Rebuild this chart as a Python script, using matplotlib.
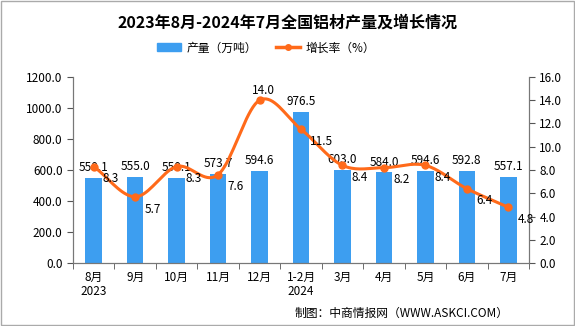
import numpy as np
import matplotlib
matplotlib.use('Agg')
import matplotlib.pyplot as plt
from matplotlib.patches import Patch
from matplotlib.lines import Line2D

plt.rcParams['font.family'] = ['Noto Sans CJK SC', 'DejaVu Sans']

# data
months = ['8月\n2023', '9月', '10月', '11月', '12月', '1-2月\n2024',
          '3月', '4月', '5月', '6月', '7月']
output = [550.1, 555.0, 550.1, 573.7, 594.6, 976.5, 603.0, 584.0, 594.6, 592.8, 557.1]
growth = [8.3, 5.7, 8.3, 7.6, 14.0, 11.5, 8.4, 8.2, 8.4, 6.4, 4.8]

bar_color = '#3d9ef0'
line_color = '#ff6a1a'


def smooth(x, y, n=20):
    # catmull-rom style smoothing, like the spreadsheet "smoothed line"
    x = np.asarray(x, float)
    y = np.asarray(y, float)
    px = np.concatenate([[2 * x[0] - x[1]], x, [2 * x[-1] - x[-2]]])
    py = np.concatenate([[2 * y[0] - y[1]], y, [2 * y[-1] - y[-2]]])
    xs, ys = [], []
    t = np.linspace(0, 1, n)
    for i in range(1, len(px) - 2):
        for p, out in ((px, xs), (py, ys)):
            p0, p1, p2, p3 = p[i - 1], p[i], p[i + 1], p[i + 2]
            out.extend(0.5 * ((2 * p1) + (-p0 + p2) * t
                              + (2 * p0 - 5 * p1 + 4 * p2 - p3) * t ** 2
                              + (-p0 + 3 * p1 - 3 * p2 + p3) * t ** 3))
    return np.array(xs), np.array(ys)


fig = plt.figure(figsize=(5.75, 3.26), dpi=100)
ax = fig.add_axes([0.127, 0.193, 0.793, 0.571])
ax2 = ax.twinx()

x = np.arange(len(months))
ax.bar(x, output, width=0.4, color=bar_color, zorder=2)
for xi, v in zip(x, output):
    ax.text(xi, v + 25, '%.1f' % v, ha='center', va='bottom', fontsize=8.5, color='black')

sx, sy = smooth(x, growth)
ax2.plot(sx, sy, color=line_color, lw=2.2, zorder=3)
ax2.plot(x, growth, 'o', color=line_color, ms=5, zorder=4)
for xi, v in zip(x, growth):
    if v == max(growth):
        ax2.text(xi + 0.1, v + 0.3, '%.1f' % v, ha='center', va='bottom', fontsize=8.5)
    else:
        ax2.text(xi + 0.22, v - 0.5, '%.1f' % v, ha='left', va='top', fontsize=8.5)

ax.set_xlim(-0.5, len(months) - 0.5)
ax.set_ylim(0, 1200)
ax2.set_ylim(0, 16)
ax.set_yticks(np.arange(0, 1201, 200))
ax.set_yticklabels(['%.1f' % v for v in np.arange(0, 1201, 200)])
ax2.set_yticks(np.arange(0, 16.1, 2))
ax2.set_yticklabels(['%.1f' % v for v in np.arange(0, 16.1, 2)])
ax.set_xticks(x)
ax.set_xticklabels(months, fontsize=8.5, linespacing=1.1)
ax.set_xticks(np.arange(-0.5, len(months)), minor=True)
ax.tick_params(axis='x', which='major', length=0, pad=6)
ax.tick_params(axis='x', which='minor', length=4, color='#555555')
ax.tick_params(axis='y', labelsize=8.5, length=4, color='#555555')
ax2.tick_params(axis='y', labelsize=8.5, length=4, color='#555555')

for a in (ax, ax2):
    a.spines['top'].set_visible(False)
    for s in ('left', 'right', 'bottom'):
        a.spines[s].set_color('#777777')

fig.text(0.5, 0.93, '2023年8月-2024年7月全国铝材产量及增长情况',
         ha='center', va='center', fontsize=11.5, fontweight='bold')

handles = [Patch(color=bar_color, label='产量（万吨）'),
           Line2D([0], [0], color=line_color, lw=2.5, marker='o', ms=4, label='增长率（%）')]
fig.legend(handles=handles, loc='center', bbox_to_anchor=(0.462, 0.853), ncol=2,
           frameon=False, fontsize=8.5, handlelength=2.1, columnspacing=1.6, handletextpad=0.4)

fig.text(0.885, 0.04, '制图：中商情报网（WWW.ASKCI.COM）', ha='right', va='center', fontsize=8.5)

fig.patches.append(plt.Rectangle((0.001, 0.002), 0.997, 0.995, transform=fig.transFigure,
                                 fill=False, edgecolor='#aaaaaa', lw=1))

fig.savefig('out.png', dpi=100)
